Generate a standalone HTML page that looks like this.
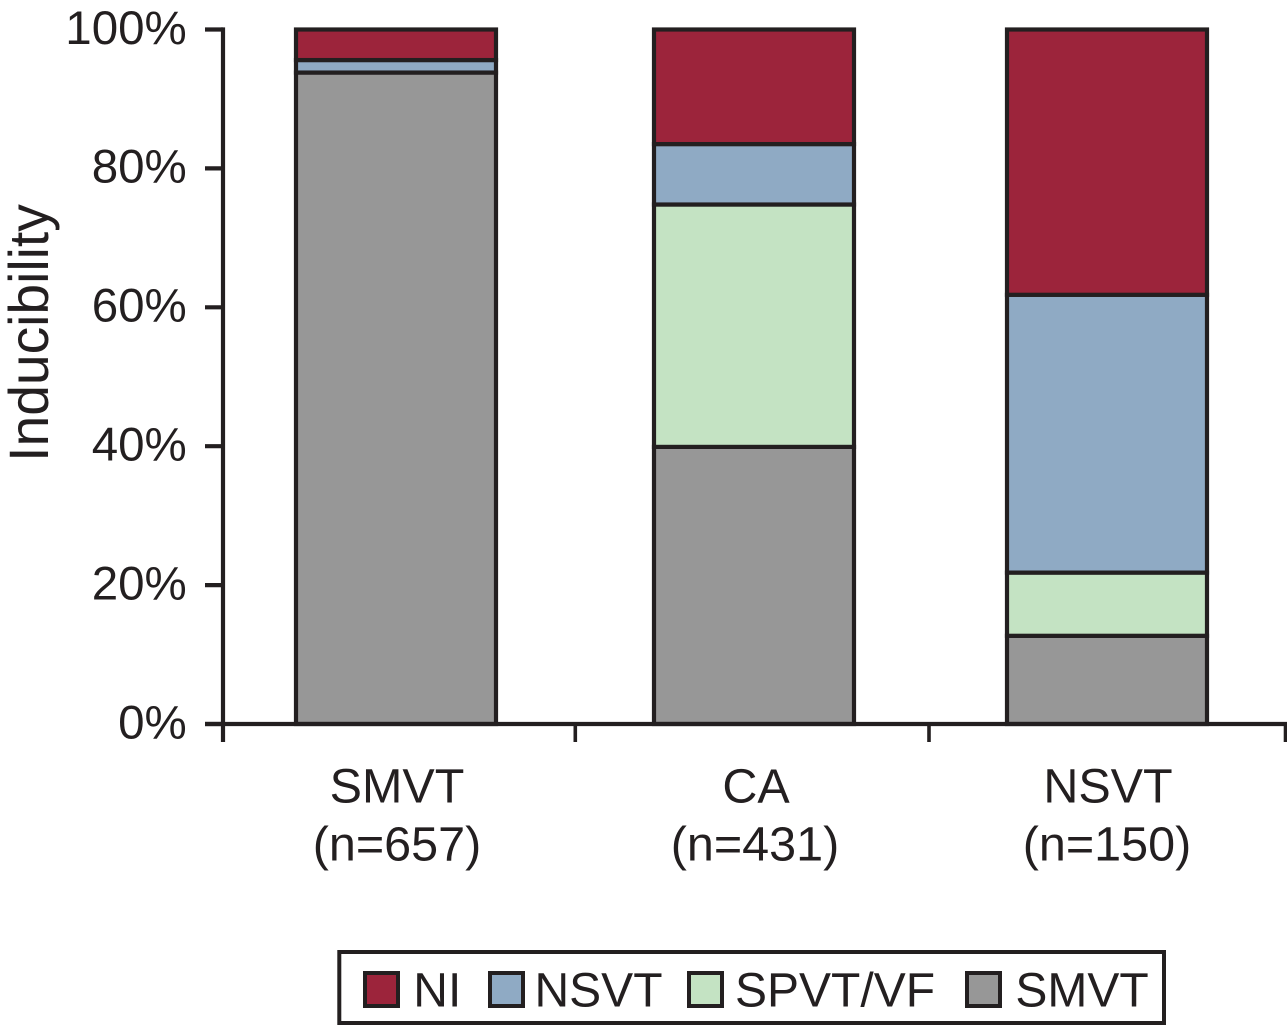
<!DOCTYPE html>
<html>
<head>
<meta charset="utf-8">
<style>
html,body{margin:0;padding:0;background:#fff;}
svg{display:block;font-family:"Liberation Sans",sans-serif;fill:#231f20;}
</style>
</head>
<body>
<svg id="chart" width="1287" height="1025" viewBox="0 0 1287 1025" xmlns="http://www.w3.org/2000/svg"></svg>
<script>
const categories = ["SMVT", "CA", "NSVT"];
const sampleLabels = ["(n=657)", "(n=431)", "(n=150)"];
const seriesNames = ["SMVT", "SPVT/VF", "NSVT", "NI"];
const smvtValues = [93.8, 39.9, 12.7];
const spvtValues = [0, 34.9, 9.1];
const nsvtValues = [1.8, 8.7, 40];
const niValues = [4.4, 16.5, 38.2];
const tickValues = [0, 20, 40, 60, 80, 100];
const seriesColors = {"SMVT":"#979797","SPVT/VF":"#c4e3c3","NSVT":"#8faac4","NI":"#9c243b"};
const legendOrder = ["NI", "NSVT", "SPVT/VF", "SMVT"];

const svg = document.getElementById('chart');
const NS = 'http://www.w3.org/2000/svg';
const INK = '#231f20';
const SW = 4.2;
const FS = 48.5;
function make(tag, attrs, text){
  const e = document.createElementNS(NS, tag);
  for (const k in attrs) e.setAttribute(k, attrs[k]);
  if (text !== undefined) e.textContent = text;
  svg.appendChild(e);
  return e;
}
const yBase = 724, yTop = 29.5;
function y(v){ return yBase - (v / 100) * (yBase - yTop); }
function x(i){ return [396, 754, 1107][i]; }
function nameX(i){ return [397, 756, 1108][i]; }
function sampleX(i){ return [397, 755, 1107][i]; }
const barWidth = 200;

const seriesValues = {"SMVT":smvtValues,"SPVT/VF":spvtValues,"NSVT":nsvtValues,"NI":niValues};
categories.forEach((cat, i) => {
  let acc = 0;
  seriesNames.forEach(s => {
    const v = seriesValues[s][i];
    if (v <= 0) return;
    const r = make('rect', {x:x(i)-barWidth/2, y:y(acc+v), width:barWidth, height:y(acc)-y(acc+v), fill:seriesColors[s], stroke:INK, 'stroke-width':SW});
    
    
    acc += v;
  });
  const t1 = make('text', {x:nameX(i), y:802.3, 'font-size':FS, 'text-anchor':'middle'}, cat);
  
  
  const t2 = make('text', {x:sampleX(i), y:860.3, 'font-size':FS, 'text-anchor':'middle'}, sampleLabels[i]);
  
  
});

const yAxis = make('line', {x1:223, y1:27.4, x2:223, y2:742, stroke:INK, 'stroke-width':SW});


const xAxis = make('line', {x1:205, y1:yBase, x2:1287, y2:yBase, stroke:INK, 'stroke-width':SW});



tickValues.forEach(v => {
  const tk = make('line', {x1:205, y1:y(v), x2:223, y2:y(v), stroke:INK, 'stroke-width':SW});
  
  
  const lb = make('text', {x:186.8, y:y(v)+14.3, 'font-size':47.5, 'text-anchor':'end'}, v + '%');
  
  
});
[575.3, 929, 1285.5].forEach(px => {
  const tk = make('line', {x1:px, y1:yBase, x2:px, y2:742, stroke:INK, 'stroke-width':3.6});
  
  
});

const yTitle = make('text', {transform:'translate(48,333) rotate(-90)', 'font-size':55.2, 'text-anchor':'middle'}, 'Inducibility');



const box = make('rect', {x:339.3, y:952, width:824.7, height:71, fill:'#fff', stroke:INK, 'stroke-width':4});


function swatchX(i){ return [365, 490, 689, 967][i]; }
function legendTextX(i){ return [413.3, 534.5, 735, 1015.4][i]; }
legendOrder.forEach((s, i) => {
  const sw = make('rect', {x:swatchX(i), y:973, width:33, height:33, fill:seriesColors[s], stroke:INK, 'stroke-width':4});
  
  
  const lb = make('text', {x:legendTextX(i), y:1006.7, 'font-size':48}, s);
  
  
});
</script>
</body>
</html>
